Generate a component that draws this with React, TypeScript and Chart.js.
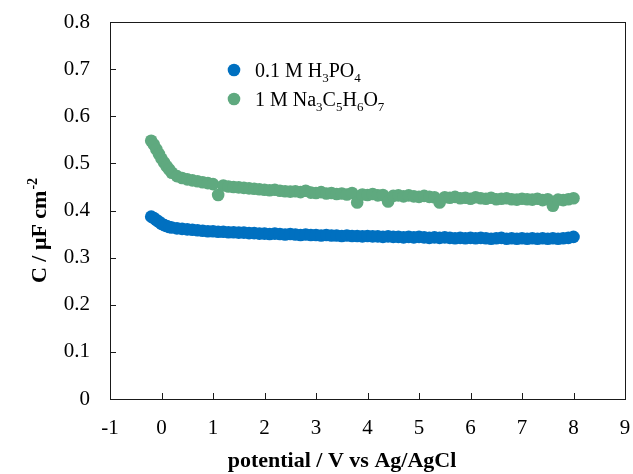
import React, { useEffect, useRef } from "react";
import { Chart, registerables } from "chart.js";

Chart.register(...registerables);

const POTENTIAL = [
  -0.2, -0.15, -0.1, -0.05, 0.0, 0.05, 0.1, 0.15, 0.2, 0.3, 0.4, 0.5, 0.6, 0.7, 0.8, 0.9,
  1.0, 1.1, 1.2, 1.3, 1.4, 1.5, 1.6, 1.7, 1.8, 1.9,
  2.0, 2.1, 2.2, 2.3, 2.4, 2.5, 2.6, 2.7, 2.8, 2.9,
  3.0, 3.1, 3.2, 3.3, 3.4, 3.5, 3.6, 3.7, 3.8, 3.9,
  4.0, 4.1, 4.2, 4.3, 4.4, 4.5, 4.6, 4.7, 4.8, 4.9,
  5.0, 5.1, 5.2, 5.3, 5.4, 5.5, 5.6, 5.7, 5.8, 5.9,
  6.0, 6.1, 6.2, 6.3, 6.4, 6.5, 6.6, 6.7, 6.8, 6.9,
  7.0, 7.1, 7.2, 7.3, 7.4, 7.5, 7.6, 7.7, 7.8, 7.9,
  8.0,
];

const H3PO4_C = [
  0.387, 0.384, 0.380, 0.376, 0.372, 0.369, 0.367, 0.365, 0.364, 0.362, 0.361, 0.360, 0.359, 0.358, 0.357, 0.356,
  0.356, 0.355, 0.355, 0.354, 0.354, 0.353, 0.353, 0.352, 0.352, 0.351,
  0.351, 0.350, 0.351, 0.350, 0.349, 0.350, 0.349, 0.348, 0.349, 0.348,
  0.348, 0.347, 0.348, 0.347, 0.347, 0.346, 0.347, 0.346, 0.346, 0.345,
  0.346, 0.345, 0.345, 0.344, 0.345, 0.344, 0.344, 0.343, 0.344, 0.343,
  0.344, 0.343, 0.342, 0.343, 0.342, 0.343, 0.342, 0.341, 0.342, 0.341,
  0.342, 0.341, 0.342, 0.341, 0.340, 0.341, 0.342, 0.340, 0.341, 0.340,
  0.341, 0.340, 0.341, 0.340, 0.341, 0.340, 0.341, 0.340, 0.341, 0.342,
  0.344,
];

const CITRATE_C = [
  0.548, 0.540, 0.530, 0.520, 0.510, 0.502, 0.494, 0.487, 0.480, 0.473, 0.469, 0.466, 0.464, 0.462, 0.460, 0.458,
  0.456, 0.433, 0.453, 0.451, 0.450, 0.449, 0.448, 0.447, 0.446, 0.445,
  0.444, 0.443, 0.444, 0.442, 0.441, 0.440, 0.441, 0.439, 0.442, 0.438,
  0.437, 0.439, 0.436, 0.437, 0.435, 0.436, 0.434, 0.437, 0.417, 0.434,
  0.433, 0.435, 0.432, 0.433, 0.419, 0.431, 0.432, 0.430, 0.432, 0.430,
  0.429, 0.431, 0.429, 0.428, 0.417, 0.428, 0.427, 0.429, 0.426, 0.427,
  0.425, 0.428, 0.426, 0.425, 0.427, 0.424, 0.425, 0.426, 0.424, 0.423,
  0.425, 0.424, 0.423, 0.425, 0.422, 0.424, 0.410, 0.423, 0.422, 0.424,
  0.426,
];

const SERIES_NAMES = ["0.1 M H3PO4", "1 M Na3C5H6O7"];
const SERIES_COLORS = ["#0070C0", "#5FA97F"];
const X_TITLE = "potential / V vs Ag/AgCl";
const Y_TITLE = "C / \u03BCF cm";
const Y_TITLE_SUP = "-2";

const FONT = '"Liberation Serif", "Times New Roman", serif';

function formulaSegments(s: string) {
  const segs: { t: string; sub: boolean }[] = [];
  for (let i = 0; i < s.length; i++) {
    const ch = s[i];
    const prev = i > 0 ? s[i - 1] : "";
    const last = segs[segs.length - 1];
    const isSub = /[0-9]/.test(ch) && (/[A-Za-z]/.test(prev) || (!!last && last.sub && /[0-9]/.test(prev)));
    if (last && last.sub === isSub) last.t += ch;
    else segs.push({ t: ch, sub: isSub });
  }
  return segs;
}

const decorPlugin = {
  id: "decor",
  afterDraw(chart: any) {
    const ctx = chart.ctx;
    const a = chart.chartArea;
    const xs = chart.scales.x;
    const ys = chart.scales.y;
    ctx.save();
    // frame
    ctx.strokeStyle = "#1a1a1a";
    ctx.lineWidth = 1;
    ctx.strokeRect(Math.round(a.left) + 0.5, Math.round(a.top) + 0.5, Math.round(a.right - a.left), Math.round(a.bottom - a.top));
    // inward ticks
    ctx.beginPath();
    xs.ticks.forEach((t: any) => {
      const px = Math.round(xs.getPixelForValue(t.value)) + 0.5;
      ctx.moveTo(px, a.bottom);
      ctx.lineTo(px, a.bottom - 6);
    });
    ys.ticks.forEach((t: any) => {
      const py = Math.round(ys.getPixelForValue(t.value)) + 0.5;
      ctx.moveTo(a.left, py);
      ctx.lineTo(a.left + 6, py);
    });
    ctx.stroke();

    ctx.fillStyle = "#000";
    // x title
    ctx.font = "bold 22px " + FONT;
    ctx.textAlign = "center";
    ctx.textBaseline = "alphabetic";
    ctx.fillText(X_TITLE, 342, 467);

    // y title with superscript
    ctx.save();
    ctx.translate(46, 231);
    ctx.rotate(-Math.PI / 2);
    ctx.font = "bold 22px " + FONT;
    const w1 = ctx.measureText(Y_TITLE).width;
    ctx.font = "bold 14px " + FONT;
    const w2 = ctx.measureText(Y_TITLE_SUP).width;
    const start = -(w1 + w2) / 2;
    ctx.textAlign = "left";
    ctx.font = "bold 22px " + FONT;
    ctx.fillText(Y_TITLE, start, 0);
    ctx.font = "bold 14px " + FONT;
    ctx.fillText(Y_TITLE_SUP, start + w1 + 1, -9);
    ctx.restore();

    // legend
    const legendY = [70, 99];
    SERIES_NAMES.forEach((name, i) => {
      const cy = legendY[i];
      ctx.fillStyle = SERIES_COLORS[i];
      ctx.beginPath();
      ctx.arc(234, cy, 6.3, 0, Math.PI * 2);
      ctx.fill();
      ctx.fillStyle = "#000";
      ctx.textAlign = "left";
      ctx.textBaseline = "alphabetic";
      let x = 255;
      formulaSegments(name).forEach((seg) => {
        ctx.font = (seg.sub ? "13px " : "20px ") + FONT;
        ctx.fillText(seg.t, x, cy + 7 + (seg.sub ? 5 : 0));
        x += ctx.measureText(seg.t).width;
      });
    });
    ctx.restore();
  },
};

export default function App() {
  const ref = useRef<HTMLCanvasElement | null>(null);
  useEffect(() => {
    if (!ref.current) return;
    const mk = (ys: number[]) => POTENTIAL.map((x, i) => ({ x, y: ys[i] }));
    const chart = new Chart(ref.current, {
      type: "scatter",
      data: {
        datasets: [
          {
            label: SERIES_NAMES[0],
            data: mk(H3PO4_C),
            backgroundColor: SERIES_COLORS[0],
            borderWidth: 0,
            pointRadius: 6.3,
          },
          {
            label: SERIES_NAMES[1],
            data: mk(CITRATE_C),
            backgroundColor: SERIES_COLORS[1],
            borderWidth: 0,
            pointRadius: 6.3,
          },
        ],
      },
      options: {
        animation: false,
        responsive: false,
        devicePixelRatio: 1,
        layout: { padding: { top: 22, right: 8, left: 0, bottom: 0 } },
        plugins: { legend: { display: false }, tooltip: { enabled: false } },
        scales: {
          x: {
            type: "linear",
            min: -1,
            max: 9,
            border: { display: false },
            grid: { display: false, drawTicks: false },
            ticks: {
              stepSize: 1,
              padding: 17,
              color: "#000",
              font: { family: FONT, size: 21 },
              maxRotation: 0,
              callback: (v: any) => String(v),
            },
            afterFit: (s: any) => {
              s.height = 75;
              s.paddingLeft = 0;
              s.paddingRight = 0;
            },
          },
          y: {
            type: "linear",
            min: 0,
            max: 0.8,
            border: { display: false },
            grid: { display: false, drawTicks: false },
            ticks: {
              stepSize: 0.1,
              padding: 20,
              color: "#000",
              font: { family: FONT, size: 21 },
              callback: (v: any) => String(Number(Number(v).toFixed(1))),
            },
            afterFit: (s: any) => {
              s.width = 110;
              s.paddingTop = 0;
              s.paddingBottom = 0;
            },
          },
        },
      },
      plugins: [decorPlugin],
    });
    return () => chart.destroy();
  }, []);
  return (
    <div style={{ position: "absolute", left: 0, top: 0, width: 633, height: 474, background: "#fff" }}>
      <canvas ref={ref} width={633} height={474} />
    </div>
  );
}
